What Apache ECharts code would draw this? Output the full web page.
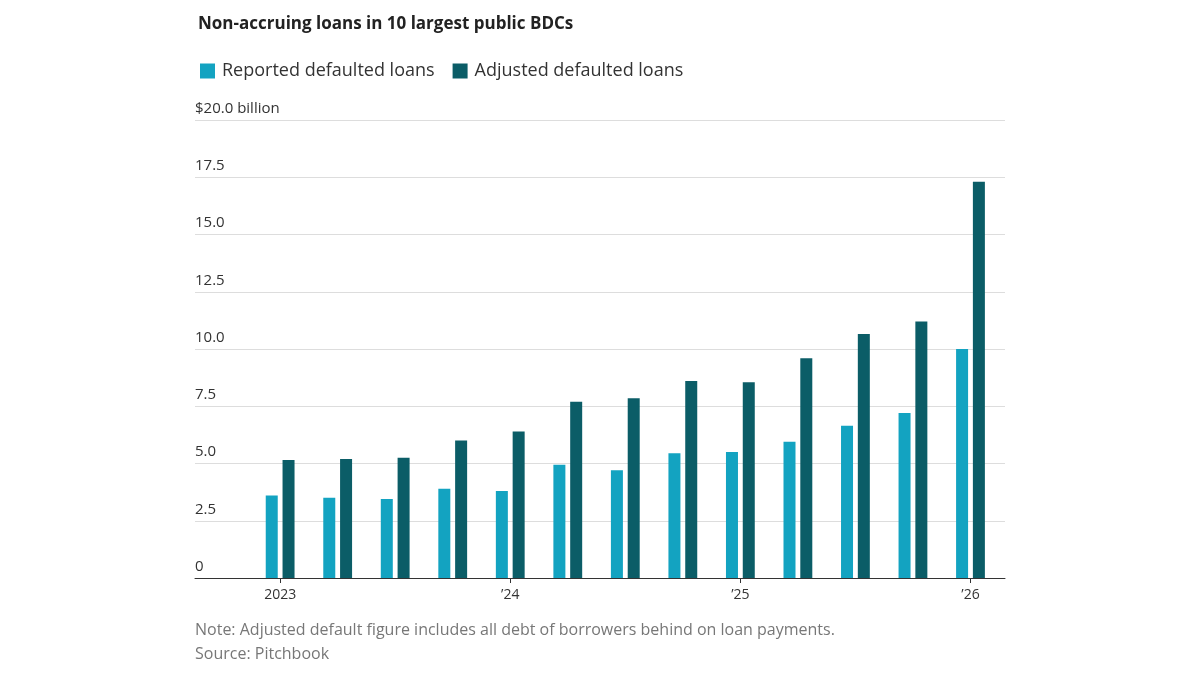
<!DOCTYPE html>
<html><head><meta charset="utf-8">
<script src="https://cdn.jsdelivr.net/npm/echarts@6/dist/echarts.min.js"></script>
<style>html,body{margin:0;background:#fff}#c{width:1200px;height:675px}</style>
</head><body><div id="c"></div>
<script>
const quarters=['2023Q1','2023Q2','2023Q3','2023Q4','2024Q1','2024Q2','2024Q3','2024Q4','2025Q1','2025Q2','2025Q3','2025Q4','2026Q1'];
const tickLabels={0:'2023',4:'’24',8:'’25',12:'’26'};
const reported=[3.6,3.5,3.45,3.9,3.8,4.95,4.7,5.45,5.5,5.95,6.65,7.2,10.0];
const adjusted=[5.15,5.2,5.25,6.0,6.4,7.7,7.85,8.6,8.55,9.6,10.65,11.2,17.3];
const chart=echarts.init(document.getElementById('c'));
const F='"Open Sans", "Noto Sans", sans-serif';
chart.setOption({
  animation:false,
  textStyle:{fontFamily:F},
  title:{text:'Non-accruing loans in 10 largest public BDCs',left:193,top:11,textStyle:{fontSize:17,fontWeight:'bold',color:'#222',fontFamily:F}},
  legend:{left:195,top:57,itemWidth:15,itemHeight:15,itemGap:18,icon:'rect',textStyle:{fontSize:18,color:'#333',fontFamily:F,padding:[0,0,0,2]},data:['Reported defaulted loans','Adjusted defaulted loans']},
  grid:{left:195,right:195,top:120,bottom:97},
  xAxis:{type:'value',min:-1.48,max:12.6,
    axisLine:{show:true,onZero:false,lineStyle:{color:'#333'}},
    axisTick:{show:true,customValues:[0,4,8,12],length:5,lineStyle:{color:'#333'}},
    splitLine:{show:false},
    axisLabel:{customValues:[0,4,8,12],formatter:v=>tickLabels[Math.round(v)]||'',fontSize:14,color:'#333',margin:10}},
  yAxis:{type:'value',min:0,max:20,interval:2.5,
    axisLine:{show:false},axisTick:{show:false},
    splitLine:{lineStyle:{color:'#ddd'}},
    axisLabel:{inside:true,margin:0,verticalAlign:'bottom',align:'left',fontSize:15,color:'#333',padding:[0,0,4,0],
      formatter:v=>v===20?'$20.0 billion':(v===0?'0':v.toFixed(1))}},
  series:[
    {name:'Reported defaulted loans',type:'bar',barWidth:12,barGap:'40%',itemStyle:{color:'#13a3c1'},data:reported.map((v,i)=>[i,v])},
    {name:'Adjusted defaulted loans',type:'bar',barWidth:12,barGap:'40%',itemStyle:{color:'#0b5d67'},data:adjusted.map((v,i)=>[i,v])}
  ],
  graphic:[
    {type:'text',left:195,top:622,style:{text:'Note: Adjusted default figure includes all debt of borrowers behind on loan payments.',fontSize:16,fill:'#777',fontFamily:F}},
    {type:'text',left:195,top:646,style:{text:'Source: Pitchbook',fontSize:16,fill:'#777',fontFamily:F}}
  ]
});
</script></body></html>
